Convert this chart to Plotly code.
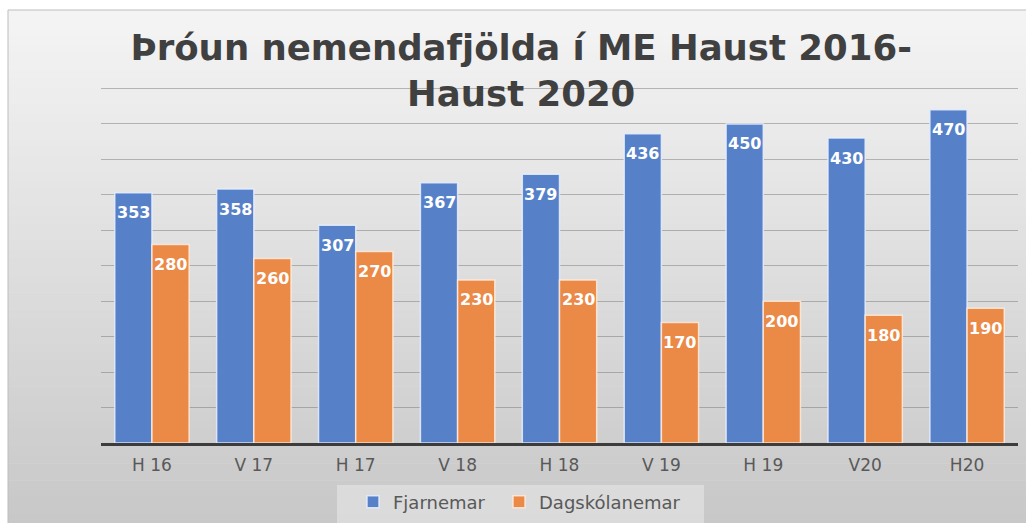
import plotly.graph_objects as go

categories = ["H 16", "V 17", "H 17", "V 18", "H 18", "V 19", "H 19", "V20", "H20"]
fjarnemar = [353, 358, 307, 367, 379, 436, 450, 430, 470]
dagskolanemar = [280, 260, 270, 230, 230, 170, 200, 180, 190]
series_names = ["Fjarnemar", "Dagskólanemar"]
title_text = "Þróun nemendafjölda í ME Haust 2016-<br>Haust 2020"

W, H = 1026, 523
ML, MR, MT, MB = 101, 8, 87, 80
PW, PH = W - ML - MR, H - MT - MB
YMAX = 502
BARGAP = 0.27


def px_x(px):
    return (px - ML) / PW


def px_y(py):
    return (H - MB - py) / PH


BLUE = "#5681C8"
ORANGE = "#EB8947"
label_font = dict(family="DejaVu Sans", size=16, color="white", weight="bold")

fig = go.Figure()
fig.add_trace(go.Bar(
    x=categories, y=fjarnemar, name=series_names[0], legend="legend",
    marker=dict(color=BLUE, line=dict(color="rgba(230,238,255,0.85)", width=1.5)),
))
fig.add_trace(go.Bar(
    x=categories, y=dagskolanemar, name=series_names[1], legend="legend2",
    marker=dict(color=ORANGE, line=dict(color="rgba(255,235,220,0.85)", width=1.5)),
))

# data labels, placed inside near the bar top (like Excel "inside end")
bar_w_px = PW / len(categories) * (1 - BARGAP) / 2
annotations = []
for series, sgn in ((fjarnemar, -1), (dagskolanemar, 1)):
    for cat, v in zip(categories, series):
        annotations.append(dict(
            x=cat, y=v, xref="x", yref="y", text=str(v), showarrow=False,
            xshift=sgn * bar_w_px / 2, yshift=-20, yanchor="middle",
            font=label_font,
        ))

# background gradient bands (chart area)
shapes = []
top_px, bot_px = 10, H
n = 60
c0, c1 = (244, 244, 244), (200, 200, 200)
for i in range(n):
    t = i / (n - 1)
    col = tuple(int(round(c0[k] + (c1[k] - c0[k]) * t)) for k in range(3))
    y0 = top_px + (bot_px - top_px) * i / n
    y1 = top_px + (bot_px - top_px) * (i + 1) / n
    shapes.append(dict(
        type="rect", xref="paper", yref="paper", layer="below",
        x0=px_x(8), x1=px_x(W + 2), y0=px_y(y0), y1=px_y(y1 + 0.6),
        fillcolor="rgb(%d,%d,%d)" % col, line=dict(width=0),
    ))
shapes.append(dict(
    type="rect", xref="paper", yref="paper", layer="below",
    x0=px_x(8), x1=px_x(W + 2), y0=px_y(10), y1=px_y(H + 2),
    fillcolor="rgba(0,0,0,0)", line=dict(color="#bdbdbd", width=1),
))
# legend box
shapes.append(dict(
    type="rect", xref="paper", yref="paper", layer="below",
    x0=px_x(337), x1=px_x(704), y0=px_y(485), y1=px_y(H + 2),
    fillcolor="rgba(255,255,255,0.33)", line=dict(width=0),
))

legend_common = dict(
    orientation="h", xref="container", yref="container",
    xanchor="left", y=(H - 502) / H, yanchor="middle",
    bgcolor="rgba(0,0,0,0)",
    font=dict(family="DejaVu Sans", size=18, color="#595959"),
    itemwidth=30,
)

fig.update_layout(
    width=W, height=H,
    margin=dict(l=ML, r=MR, t=MT, b=MB),
    paper_bgcolor="white",
    plot_bgcolor="rgba(0,0,0,0)",
    barmode="group", bargap=BARGAP, bargroupgap=0.0,
    shapes=shapes,
    annotations=annotations,
    title=dict(
        text=title_text, x=0.508, xref="container", xanchor="center",
        y=1 - 60 / H, yref="container", yanchor="top",
        font=dict(family="DejaVu Sans", size=35.5, color="#404040", weight="bold"),
    ),
    legend=dict(x=353 / W, **legend_common),
    legend2=dict(x=499 / W, **legend_common),
    xaxis=dict(
        showgrid=False, showline=True, linecolor="#3c3c3c", linewidth=2.5,
        tickfont=dict(family="DejaVu Sans", size=17, color="#595959"),
        ticks="outside", ticklen=5, tickcolor="rgba(0,0,0,0)",
    ),
    yaxis=dict(
        range=[0, YMAX], dtick=50, showticklabels=False,
        showgrid=True, gridcolor="rgba(110,110,110,0.45)", gridwidth=1.3,
        zeroline=False,
    ),
    showlegend=True,
)

fig.write_html("out.html", config={"displayModeBar": False},
               post_script="document.body.style.margin='0';")
